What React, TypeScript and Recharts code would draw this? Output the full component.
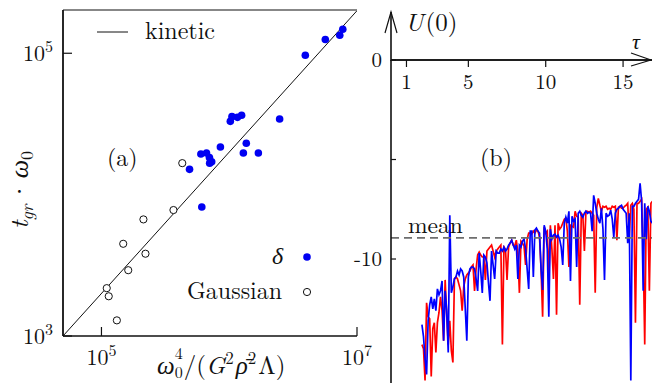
import React from 'react';
import { ScatterChart, Scatter, XAxis, YAxis, ReferenceLine, LineChart, Line } from 'recharts';

const SERIF = "'Latin Modern Roman'";

// ---------- Panel (a) data ----------
const deltaX = [7.74e6, 7.33e6, 5.65e6, 3.94e6, 2.48e6, 1.25e6, 1.16e6, 1.05e6, 1.02e6, 1.36e6,
  1.29e6, 1.69e6, 8.53e5, 6.0e5, 6.64e5, 7.0e5, 7.29e5, 7.03e5, 4.89e5, 6.1e5];
const deltaY = [1.48e5, 1.34e5, 1.25e5, 9.68e4, 3.43e4, 3.64e4, 3.52e4, 3.56e4, 3.3e4, 2.31e4,
  1.97e4, 1.97e4, 2.17e4, 1.94e4, 1.97e4, 1.83e4, 1.71e4, 1.67e4, 1.51e4, 8.17e3];
const gaussX = [4.29e5, 3.66e5, 2.13e5, 1.48e5, 2.21e5, 1.62e5, 1.1e5, 1.14e5, 1.32e5];
const gaussY = [1.67e4, 7.78e3, 6.68e3, 4.49e3, 3.82e3, 2.92e3, 2.18e3, 1.91e3, 1.29e3];
const kineticX = [5.0e4, 1.0e7];
const kineticY = [1.0e3, 2.0e5];
const xTicksA = [1e5, 1e7];
const yTicksA = [1e3, 1e5];
const xDomainA = [5.0e4, 1.0e7];
const yDomainA = [1.0e3, 2.023e5];

// ---------- Panel (b) data ----------
const tauStart = 2.0;
const tauStep = 0.1;
const uRed = [
  -14.3, -14.5, -16.1, -12.2, -12.9, -13.0, -15.9, -13.5, -13.2, -14.7,
  -13.2, -12.7, -11.9, -12.6, -14.1, -11.05, -12.8, -14.3, -13.1, -14.6,
  -15.2, -11.0, -10.9, -11.0, -11.3, -11.6, -12.6, -11.4, -11.0, -10.8,
  -10.7, -10.6, -10.4, -10.3, -11.6, -10.5, -9.8, -9.65, -9.8, -9.9,
  -9.9, -11.05, -9.6, -9.5, -9.4, -9.3, -9.6, -9.9, -9.6, -9.5,
  -9.4, -9.3, -14.3, -9.4, -9.5, -11.05, -9.4, -9.2, -9.05, -9.3,
  -9.35, -9.05, -9.7, -11.7, -9.1, -9.2, -9.35, -10.3, -9.0, -8.7,
  -8.7, -8.75, -8.6, -8.7, -8.55, -8.6, -8.9, -10.5, -12.9, -8.4,
  -8.7, -8.6, -11.0, -8.3, -9.5, -11.0, -8.3, -12.8, -8.2, -8.5,
  -8.4, -8.2, -8.0, -7.95, -8.6, -10.4, -8.3, -8.35, -8.4, -7.6,
  -7.85, -7.9, -12.3, -7.7, -7.8, -9.6, -7.6, -7.6, -7.65, -7.6,
  -7.7, -7.8, -11.7, -7.4, -6.95, -7.3, -7.6, -7.35, -7.4, -7.35,
  -7.5, -7.45, -7.5, -7.35, -7.4, -7.35, -9.05, -7.4, -7.35, -7.45,
  -7.45, -7.35, -7.3, -7.2, -8.9, -7.3, -7.2, -7.5, -13.2, -7.2,
  -7.2, -7.1, -7.0, -9.6, -14.3, -7.5, -7.4, -11.6, -7.2, -7.1,
];
const uBlue = [
  -13.3, -13.9, -15.0, -15.8, -13.1, -12.3, -11.9, -12.5, -12.0, -12.6,
  -11.5, -11.8, -11.6, -11.1, -14.1, -11.6, -12.6, -14.7, -7.8, -11.7,
  -11.4, -11.0, -10.9, -10.6, -10.8, -10.5, -10.6, -10.9, -12.5, -14.1,
  -10.9, -10.5, -10.4, -10.4, -10.5, -11.0, -11.6, -9.7, -10.6, -11.7,
  -9.8, -9.9, -10.2, -11.2, -12.1, -9.6, -10.3, -11.0, -9.6, -9.7,
  -9.7, -9.5, -9.6, -9.4, -9.6, -9.5, -9.3, -9.2, -9.05, -9.3,
  -9.5, -9.3, -11.0, -9.3, -9.4, -9.1, -9.0, -9.5, -10.5, -11.5,
  -8.6, -8.6, -10.9, -8.55, -8.45, -8.6, -8.7, -10.5, -11.55, -8.3,
  -8.6, -9.5, -12.9, -8.5, -9.0, -8.8, -8.75, -8.9, -8.8, -9.0,
  -9.4, -10.3, -8.2, -7.9, -8.2, -7.6, -11.1, -7.85, -8.1, -8.0,
  -10.4, -7.7, -7.6, -7.8, -7.9, -7.7, -7.6, -7.7, -7.65, -7.7,
  -8.6, -6.8, -7.2, -7.7, -8.0, -8.2, -7.45, -8.5, -11.05, -7.7,
  -7.85, -7.8, -7.55, -8.0, -8.9, -7.7, -7.5, -7.45, -7.35, -7.3,
  -7.5, -7.6, -7.7, -9.2, -7.7, -16.1, -7.35, -7.35, -7.2, -7.1,
  -7.0, -6.2, -7.1, -11.6, -7.2, -9.0, -7.35, -7.6, -8.1, -8.2,
];
const tauTicks = [1, 5, 10, 15];
const uTicks = [0, -5, -10];
const uTickLabels: Record<string, string> = { '0': '0', '-10': '-10' };
const meanU = -8.94;
const tauDomain = [0, 16.87];
const uDomain = [-16.23, 0];

// ---------- derived tables ----------
const deltaData = deltaX.map((x, i) => ({ x, y: deltaY[i] }));
const gaussData = gaussX.map((x, i) => ({ x, y: gaussY[i] }));
const kineticData = kineticX.map((x, i) => ({ x, y: kineticY[i] }));
const uData = uRed.map((r, i) => ({ t: +(tauStart + i * tauStep).toFixed(2), red: r, blue: uBlue[i] }));

const INK = '#111';
const TS: React.CSSProperties = { fontFamily: SERIF };

const PowTickX = (props: any) => {
  const { x, y, payload } = props;
  const e = Math.round(Math.log10(payload.value));
  return (
    <g>
      <line x1={x} x2={x} y1={y} y2={y - 9} stroke={INK} strokeWidth={1.2} />
      <text x={x} y={y + 29} textAnchor="middle" fontSize={22} style={TS} fill={INK}>
        10<tspan dy={-9} fontSize={16}>{e}</tspan>
      </text>
    </g>
  );
};

const PowTickY = (props: any) => {
  const { x, y, payload } = props;
  const e = Math.round(Math.log10(payload.value));
  return (
    <g>
      <line x1={x} x2={x + 9} y1={y} y2={y} stroke={INK} strokeWidth={1.2} />
      <text x={x - 10} y={y + 8} textAnchor="end" fontSize={22} style={TS} fill={INK}>
        10<tspan dy={-9} fontSize={16}>{e}</tspan>
      </text>
    </g>
  );
};

const TauTick = (props: any) => {
  const { x, y, payload } = props;
  return (
    <g>
      <line x1={x} x2={x} y1={y} y2={y + 7} stroke={INK} strokeWidth={1.2} />
      <text x={x} y={y + 29} textAnchor="middle" fontSize={21} style={TS} fill={INK}>
        {String(payload.value)}
      </text>
    </g>
  );
};

const UTick = (props: any) => {
  const { x, y, payload } = props;
  const lab = uTickLabels[String(payload.value)];
  return (
    <g>
      <line x1={x} x2={x + 5} y1={y} y2={y} stroke={INK} strokeWidth={1.2} />
      {lab ? (
        <text x={x - 9} y={y + 7} textAnchor="end" fontSize={21} style={TS} fill={INK}>
          {lab}
        </text>
      ) : null}
    </g>
  );
};

const BlueDot = (props: any) => <circle cx={props.cx} cy={props.cy} r={3.8} fill="#0000f2" />;
const OpenDot = (props: any) => (
  <circle cx={props.cx} cy={props.cy} r={3.6} fill="#fff" stroke={INK} strokeWidth={1} />
);
const NoDot = () => <g />;

export default function App() {
  return (
    <div style={{ position: 'absolute', left: 0, top: 0, width: 652, height: 383, background: '#fff', overflow: 'hidden' }}>
      <div style={{ position: 'absolute', left: 0, top: 0 }}>
        <ScatterChart width={382} height={383} margin={{ top: 10, right: 25, bottom: 0, left: 0 }}>
          <XAxis
            type="number" dataKey="x" scale="log" domain={xDomainA} ticks={xTicksA} interval={0}
            height={47} tickSize={0} tickMargin={0} tickLine={false} tick={<PowTickX />}
            axisLine={{ stroke: INK, strokeWidth: 1.6 }} allowDataOverflow
          />
          <YAxis
            type="number" dataKey="y" scale="log" domain={yDomainA} ticks={yTicksA} interval={0}
            width={63} tickSize={0} tickMargin={0} tickLine={false} tick={<PowTickY />}
            axisLine={{ stroke: INK, strokeWidth: 1.8 }} allowDataOverflow
          />
          <ReferenceLine y={yDomainA[1]} stroke={INK} strokeWidth={1.2} />
          <Scatter data={kineticData} line={{ stroke: INK, strokeWidth: 1 }} shape={NoDot} isAnimationActive={false} />
          <Scatter data={gaussData} shape={OpenDot} isAnimationActive={false} />
          <Scatter data={deltaData} shape={BlueDot} isAnimationActive={false} />
        </ScatterChart>
      </div>

      <div style={{ position: 'absolute', left: 340, top: 0 }}>
        <LineChart width={312} height={383} data={uData} margin={{ top: 59, right: 0, bottom: 0, left: 0 }}>
          <XAxis
            type="number" dataKey="t" orientation="top" domain={tauDomain} ticks={tauTicks} interval={0}
            height={1} tickSize={0} tickMargin={0} tickLine={false} tick={<TauTick />}
            axisLine={{ stroke: INK, strokeWidth: 1.4 }} allowDataOverflow
          />
          <YAxis
            type="number" domain={uDomain} ticks={uTicks} interval={0}
            width={51} tickSize={0} tickMargin={0} tickLine={false} tick={<UTick />}
            axisLine={{ stroke: INK, strokeWidth: 1.6 }} allowDataOverflow
          />
          <ReferenceLine y={0} stroke={INK} strokeWidth={1.4} />
          <Line type="linear" dataKey="red" stroke="#ff0000" strokeWidth={1.7} dot={false} isAnimationActive={false} />
          <Line type="linear" dataKey="blue" stroke="#0000ff" strokeWidth={1.7} dot={false} isAnimationActive={false} />
          <ReferenceLine y={meanU} stroke="#6e6e6e" strokeDasharray="8 5" strokeWidth={1.6} />
        </LineChart>
      </div>

      <svg width={652} height={383} style={{ position: 'absolute', left: 0, top: 0, pointerEvents: 'none', fontFamily: SERIF }}
        fill={INK}>
        {/* panel (a) legend and labels */}
        <line x1={97} x2={128} y1={32} y2={32} stroke={INK} strokeWidth={1} />
        <text x={145} y={39} fontSize={24} style={TS}>kinetic</text>
        <text x={107} y={166} fontSize={24} style={TS}>(a)</text>
        <text x={272} y={264} fontSize={24} fontStyle="italic" style={TS}>δ</text>
        <circle cx={307} cy={257} r={3.8} fill="#0000f2" />
        <text x={187} y={299} fontSize={24} style={TS}>Gaussian</text>
        <circle cx={307} cy={292} r={3.6} fill="#fff" stroke={INK} strokeWidth={1} />
        <text transform="translate(28,190) rotate(-90)" textAnchor="middle" fontSize={26} style={TS}>
          <tspan fontStyle="italic">t</tspan>
          <tspan fontStyle="italic" fontSize={18} dy={5}>gr</tspan>
          <tspan dy={-5} dx={3}>·</tspan>
          <tspan fontStyle="italic" dx={3}>ω</tspan>
          <tspan fontSize={18} dy={5}>0</tspan>
        </text>
        <text x={157} y={374} fontSize={25} style={TS}>
          <tspan fontStyle="italic">ω</tspan>
          <tspan fontSize={16} dy={4}>0</tspan>
          <tspan fontSize={16} dx={-8} dy={-19}>4</tspan>
          <tspan dy={15} dx={1}>/(</tspan>
          <tspan fontStyle="italic">G</tspan>
          <tspan fontSize={17} dy={-10}>2</tspan>
          <tspan fontStyle="italic" dy={10} dx={2}>ρ̄</tspan>
          <tspan fontSize={17} dy={-10}>2</tspan>
          <tspan dy={10} dx={2}>Λ)</tspan>
        </text>

        {/* panel (b) decorations */}
        <line x1={391} x2={391} y1={12} y2={61} stroke={INK} strokeWidth={1.6} />
        <polyline points="385,33 391,12 397,33" fill="none" stroke={INK} strokeWidth={1.2} />
        <polyline points="631,53 651,60 631,66" fill="none" stroke={INK} strokeWidth={1.2} />
        <text x={405} y={31} fontSize={25} style={TS}>
          <tspan fontStyle="italic">U</tspan>
          <tspan dx={2}>(0)</tspan>
        </text>
        <text x={632} y={49} fontSize={22} fontStyle="italic" style={TS}>τ</text>
        <text x={480} y={166} fontSize={24} style={TS}>(b)</text>
        <text x={408} y={233} fontSize={23.5} style={TS}>mean</text>
      </svg>
    </div>
  );
}
